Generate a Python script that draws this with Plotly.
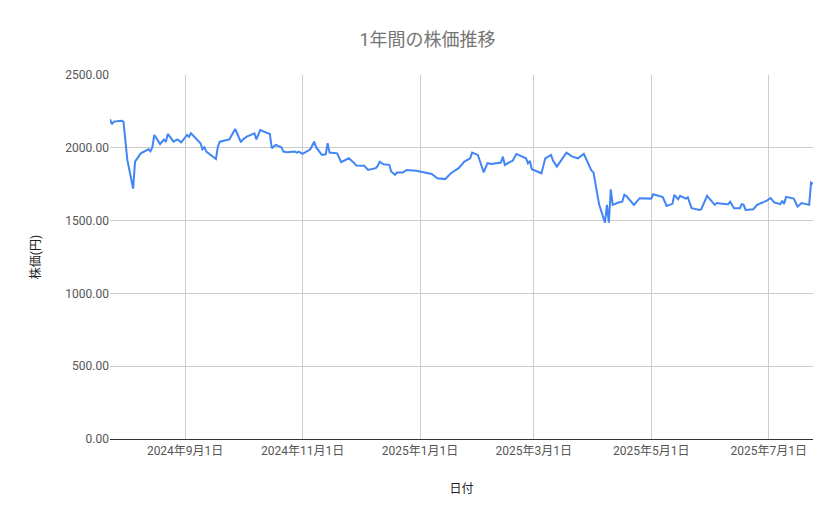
import plotly.graph_objects as go
import pandas as pd

# (trading-day closes, approximate)
dates = [
    "2024-07-24", "2024-07-25", "2024-07-26", "2024-07-30", "2024-07-31", "2024-08-01", "2024-08-02",
    "2024-08-05", "2024-08-06", "2024-08-09", "2024-08-13", "2024-08-14", "2024-08-15", "2024-08-16",
    "2024-08-19", "2024-08-21", "2024-08-22", "2024-08-23", "2024-08-26", "2024-08-28", "2024-08-30",
    "2024-09-02", "2024-09-03", "2024-09-04", "2024-09-09", "2024-09-10", "2024-09-11", "2024-09-12",
    "2024-09-17", "2024-09-18", "2024-09-19", "2024-09-24", "2024-09-27", "2024-09-30", "2024-10-01",
    "2024-10-03", "2024-10-07", "2024-10-08", "2024-10-10", "2024-10-15", "2024-10-16", "2024-10-18",
    "2024-10-21", "2024-10-22", "2024-10-24", "2024-10-28", "2024-10-29", "2024-10-30", "2024-11-01",
    "2024-11-05", "2024-11-07", "2024-11-08", "2024-11-11", "2024-11-13", "2024-11-14", "2024-11-15",
    "2024-11-19", "2024-11-21", "2024-11-25", "2024-11-27", "2024-11-29", "2024-12-03", "2024-12-05",
    "2024-12-09", "2024-12-10", "2024-12-11", "2024-12-13", "2024-12-16", "2024-12-17", "2024-12-19",
    "2024-12-20", "2024-12-23", "2024-12-25", "2024-12-30", "2025-01-07", "2025-01-10", "2025-01-14",
    "2025-01-17", "2025-01-21", "2025-01-24", "2025-01-27", "2025-01-28", "2025-01-31", "2025-02-03",
    "2025-02-05", "2025-02-07", "2025-02-12", "2025-02-13", "2025-02-14", "2025-02-17", "2025-02-18",
    "2025-02-20", "2025-02-25", "2025-02-26", "2025-02-27", "2025-02-28", "2025-03-03", "2025-03-05",
    "2025-03-07", "2025-03-10", "2025-03-11", "2025-03-13", "2025-03-18", "2025-03-21", "2025-03-24",
    "2025-03-27", "2025-03-31", "2025-04-01", "2025-04-04", "2025-04-07", "2025-04-08", "2025-04-09",
    "2025-04-10", "2025-04-11", "2025-04-14", "2025-04-16", "2025-04-17", "2025-04-18", "2025-04-22",
    "2025-04-25", "2025-05-01", "2025-05-02", "2025-05-07", "2025-05-09", "2025-05-12", "2025-05-13",
    "2025-05-15", "2025-05-16", "2025-05-19", "2025-05-20", "2025-05-22", "2025-05-26", "2025-05-27",
    "2025-05-30", "2025-06-03", "2025-06-04", "2025-06-09", "2025-06-10", "2025-06-11", "2025-06-13",
    "2025-06-16", "2025-06-17", "2025-06-18", "2025-06-19", "2025-06-23", "2025-06-25", "2025-06-30",
    "2025-07-02", "2025-07-04", "2025-07-07", "2025-07-08", "2025-07-09", "2025-07-10", "2025-07-14",
    "2025-07-16", "2025-07-18", "2025-07-22", "2025-07-23", "2025-07-24",
]
prices = [
    2196, 2163, 2180, 2186, 2180, 2042, 1917,
    1720, 1905, 1962, 1990, 1976, 2004, 2088,
    2026, 2057, 2040, 2095, 2042, 2057, 2038,
    2088, 2075, 2100, 2031, 1990, 2004, 1974,
    1923, 2008, 2042, 2058, 2129, 2038, 2058,
    2077, 2099, 2058, 2122, 2095, 1997, 2020,
    2004, 1974, 1969, 1974, 1967, 1974, 1958,
    1990, 2042, 2004, 1951, 1955, 2031, 1967,
    1962, 1901, 1928, 1905, 1878, 1876, 1848,
    1860, 1876, 1905, 1887, 1883, 1837, 1814,
    1830, 1830, 1848, 1843, 1820, 1791, 1785,
    1825, 1860, 1905, 1928, 1967, 1951, 1832,
    1894, 1889, 1899, 1939, 1882, 1905, 1910,
    1958, 1928, 1894, 1910, 1853, 1837, 1825,
    1928, 1951, 1912, 1871, 1967, 1939, 1928,
    1958, 1843, 1832, 1608, 1486, 1608, 1486,
    1715, 1608, 1624, 1630, 1677, 1670, 1608,
    1654, 1651, 1681, 1661, 1601, 1615, 1677,
    1647, 1670, 1651, 1660, 1585, 1573, 1578,
    1670, 1608, 1620, 1613, 1613, 1630, 1585,
    1585, 1613, 1608, 1573, 1578, 1608, 1637,
    1654, 1624, 1613, 1637, 1615, 1663, 1651,
    1596, 1620, 1608, 1761, 1752,
]

tick_dates = ["2024-09-01", "2024-11-01", "2025-01-01", "2025-03-01", "2025-05-01", "2025-07-01"]
tick_labels = ["2024年9月1日", "2024年11月1日", "2025年1月1日", "2025年3月1日", "2025年5月1日", "2025年7月1日"]
y_ticks = [0, 500, 1000, 1500, 2000, 2500]

df = pd.DataFrame({"日付": pd.to_datetime(dates), "株価": prices})

font_jp = "Roboto, 'Noto Sans CJK JP', sans-serif"

fig = go.Figure()
fig.add_trace(go.Scatter(x=df["日付"], y=df["株価"], mode="lines",
                         line=dict(color="#4285F4", width=2), showlegend=False))

# the page body adds 8px, so margins are set a bit off to land where the reference has them
fig.update_layout(
    width=839, height=519,
    paper_bgcolor="white", plot_bgcolor="white",
    margin=dict(l=102, r=34, t=67, b=88),
    font=dict(family=font_jp, color="#444444"),
    title=dict(text="1年間の株価推移", x=0.5, xanchor="center", y=0.938, yanchor="middle",
               font=dict(size=18, color="#757575", family=font_jp)),
)
fig.update_xaxes(
    range=[df["日付"].min(), df["日付"].max()],
    tickvals=pd.to_datetime(tick_dates), ticktext=tick_labels,
    tickfont=dict(size=12, color="#555555"),
    showgrid=True, gridcolor="#cccccc", gridwidth=1,
    showline=True, linecolor="#333333", linewidth=1.2,
    ticks="", zeroline=False,
    title=dict(text="日付", font=dict(size=12, color="#222222"), standoff=28),
)
fig.update_yaxes(
    range=[0, 2500], tickvals=y_ticks, tickformat=".2f",
    tickfont=dict(size=12, color="#555555"),
    showgrid=True, gridcolor="#cccccc", gridwidth=1,
    zeroline=False, showline=False, ticks="",
    title=dict(text="株価(円)", font=dict(size=12, color="#222222"), standoff=22),
)

fig.write_html("out.html")
